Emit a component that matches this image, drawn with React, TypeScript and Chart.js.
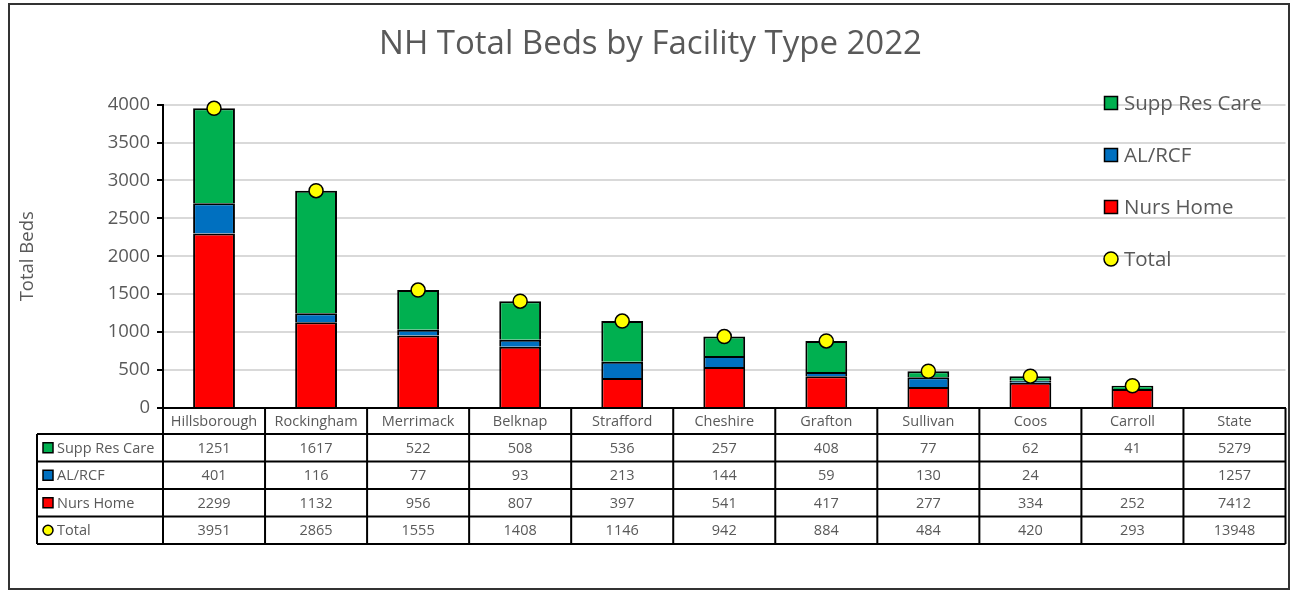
import React, { useEffect, useRef } from 'react';
import { Chart, registerables } from 'chart.js';

Chart.register(...registerables);

const chartTitle = 'NH Total Beds by Facility Type 2022';
const yAxisTitle = 'Total Beds';
const summaryCategory = 'State';

const categories = ['Hillsborough', 'Rockingham', 'Merrimack', 'Belknap', 'Strafford', 'Cheshire', 'Grafton', 'Sullivan', 'Coos', 'Carroll', 'State'];
const suppResCare = [1251, 1617, 522, 508, 536, 257, 408, 77, 62, 41, 5279];
const alRcf = [401, 116, 77, 93, 213, 144, 59, 130, 24, null, 1257];
const nursHome = [2299, 1132, 956, 807, 397, 541, 417, 277, 334, 252, 7412];
const totals = [3951, 2865, 1555, 1408, 1146, 942, 884, 484, 420, 293, 13948];

const yTicks = { min: 0, max: 4000, step: 500 };

const GREEN = '#00B050';
const BLUE = '#0070C0';
const RED = '#FF0000';
const YELLOW = '#FFFF00';
const GRAY_TEXT = '#595959';
const FONT = '"Open Sans", "Noto Sans", sans-serif';

const plotted = (arr: (number | null)[]) => arr.map((v, i) => (categories[i] === summaryCategory ? null : v));

const tableRows = [
  { label: 'Supp Res Care', values: suppResCare, color: GREEN, marker: 'box' },
  { label: 'AL/RCF', values: alRcf, color: BLUE, marker: 'box' },
  { label: 'Nurs Home', values: nursHome, color: RED, marker: 'box' },
  { label: 'Total', values: totals, color: YELLOW, marker: 'circle' },
];

function drawMarker(ctx: CanvasRenderingContext2D, kind: string, color: string, cx: number, cy: number, size: number) {
  ctx.save();
  ctx.fillStyle = color;
  ctx.strokeStyle = '#000';
  ctx.lineWidth = 1.5;
  if (kind === 'circle') {
    ctx.beginPath();
    ctx.arc(cx, cy, size / 2, 0, Math.PI * 2);
    ctx.fill();
    ctx.stroke();
  } else {
    ctx.fillRect(cx - size / 2, cy - size / 2, size, size);
    ctx.strokeRect(cx - size / 2, cy - size / 2, size, size);
  }
  ctx.restore();
}

const framePlugin = {
  id: 'frameAndTable',
  beforeDraw(chart: any) {
    const ctx = chart.ctx as CanvasRenderingContext2D;
    ctx.save();
    ctx.fillStyle = '#fff';
    ctx.fillRect(0, 0, chart.width, chart.height);
    ctx.strokeStyle = '#333';
    ctx.lineWidth = 2;
    ctx.strokeRect(9, 4, 1280, 585);
    ctx.restore();
  },
  afterDraw(chart: any) {
    const ctx = chart.ctx as CanvasRenderingContext2D;
    const xs = chart.scales.x;
    const area = chart.chartArea;
    const n = categories.length;
    const colW = (area.right - area.left) / n;
    const headerTop = area.bottom;
    const headerBottom = xs.bottom;
    const rowH = 27.5;
    const labelLeft = 37;
    const tableBottom = headerBottom + rowH * tableRows.length;

    ctx.save();
    ctx.strokeStyle = '#000';
    ctx.lineWidth = 2;
    ctx.beginPath();
    ctx.moveTo(area.left, headerTop);
    ctx.lineTo(area.right, headerTop);
    for (let i = 0; i <= n; i++) {
      const x = area.left + colW * i;
      ctx.moveTo(x, headerTop);
      ctx.lineTo(x, tableBottom);
    }
    ctx.moveTo(labelLeft, headerBottom);
    ctx.lineTo(labelLeft, tableBottom);
    for (let r = 0; r <= tableRows.length; r++) {
      const y = headerBottom + rowH * r;
      ctx.moveTo(labelLeft, y);
      ctx.lineTo(area.right, y);
    }
    ctx.stroke();

    ctx.font = `14.5px ${FONT}`;
    ctx.fillStyle = GRAY_TEXT;
    ctx.textBaseline = 'middle';
    tableRows.forEach((row, r) => {
      const cy = headerBottom + rowH * r + rowH / 2;
      drawMarker(ctx, row.marker, row.color, 48, cy, 10);
      ctx.fillStyle = GRAY_TEXT;
      ctx.textAlign = 'left';
      ctx.fillText(row.label, 57, cy + 1);
      ctx.textAlign = 'center';
      row.values.forEach((v, i) => {
        if (v === null || v === undefined) return;
        const cx = xs.getPixelForValue(i);
        ctx.fillText(String(v), cx, cy + 1);
      });
    });

    const legendItems = [tableRows[0], tableRows[1], tableRows[2], tableRows[3]];
    ctx.font = `20.5px ${FONT}`;
    ctx.textAlign = 'left';
    legendItems.forEach((item, k) => {
      const cy = 103 + k * 52;
      drawMarker(ctx, item.marker, item.color, 1111, cy, item.marker === 'circle' ? 14 : 13);
      ctx.fillStyle = GRAY_TEXT;
      ctx.fillText(item.label, 1124, cy + 1);
    });
    ctx.restore();
  },
};

export default function App() {
  const ref = useRef<HTMLCanvasElement>(null);
  useEffect(() => {
    if (!ref.current) return;
    const chart = new Chart(ref.current, {
      type: 'bar',
      data: {
        labels: categories,
        datasets: [
          { type: 'line', label: 'Total', data: plotted(totals), showLine: false, pointRadius: 7, pointHoverRadius: 7, pointBackgroundColor: YELLOW, pointBorderColor: '#000', pointBorderWidth: 1.5, stack: 'total', order: 0, clip: false } as any,
          { label: 'Nurs Home', data: plotted(nursHome), backgroundColor: RED, borderColor: '#000', borderWidth: 2, stack: 'beds', order: 1, barPercentage: 0.41, categoryPercentage: 1 },
          { label: 'AL/RCF', data: plotted(alRcf), backgroundColor: BLUE, borderColor: '#000', borderWidth: 2, stack: 'beds', order: 1, barPercentage: 0.41, categoryPercentage: 1 },
          { label: 'Supp Res Care', data: plotted(suppResCare), backgroundColor: GREEN, borderColor: '#000', borderWidth: 2, stack: 'beds', order: 1, barPercentage: 0.41, categoryPercentage: 1 },
        ],
      },
      options: {
        responsive: false,
        animation: false,
        layout: { padding: { left: 13, top: 0, right: 6, bottom: 156 } },
        plugins: {
          legend: { display: false },
          tooltip: { enabled: false },
          title: {
            display: true,
            text: chartTitle,
            color: GRAY_TEXT,
            font: { family: FONT, size: 33, weight: 'normal' },
            padding: { top: 25, bottom: 40 },
          },
        },
        scales: {
          x: {
            stacked: true,
            offset: true,
            grid: { display: false, drawTicks: false },
            border: { display: true, color: '#000', width: 2 },
            ticks: { color: GRAY_TEXT, font: { family: FONT, size: 14.5 }, padding: 5, maxRotation: 0, autoSkip: false },
            afterFit: (s: any) => { s.height = 26; },
          },
          y: {
            stacked: true,
            min: yTicks.min,
            max: yTicks.max,
            ticks: { stepSize: yTicks.step, color: GRAY_TEXT, font: { family: FONT, size: 18.5 }, padding: 7, callback: (v: any) => String(v) },
            grid: { color: '#d9d9d9', lineWidth: 2, tickColor: '#000', tickLength: 6, drawTicks: true },
            border: { display: true, color: '#000', width: 2 },
            title: { display: true, text: yAxisTitle, color: GRAY_TEXT, font: { family: FONT, size: 18.5 }, padding: { top: 4, bottom: 4 } },
            afterFit: (s: any) => { s.width = 150; },
          },
        },
      },
      plugins: [framePlugin],
    });
    return () => chart.destroy();
  }, []);
  return (
    <div style={{ position: 'fixed', left: 0, top: 0, width: 1294, height: 590 }}>
      <canvas ref={ref} width={1294} height={590} style={{ display: 'block' }} />
    </div>
  );
}
